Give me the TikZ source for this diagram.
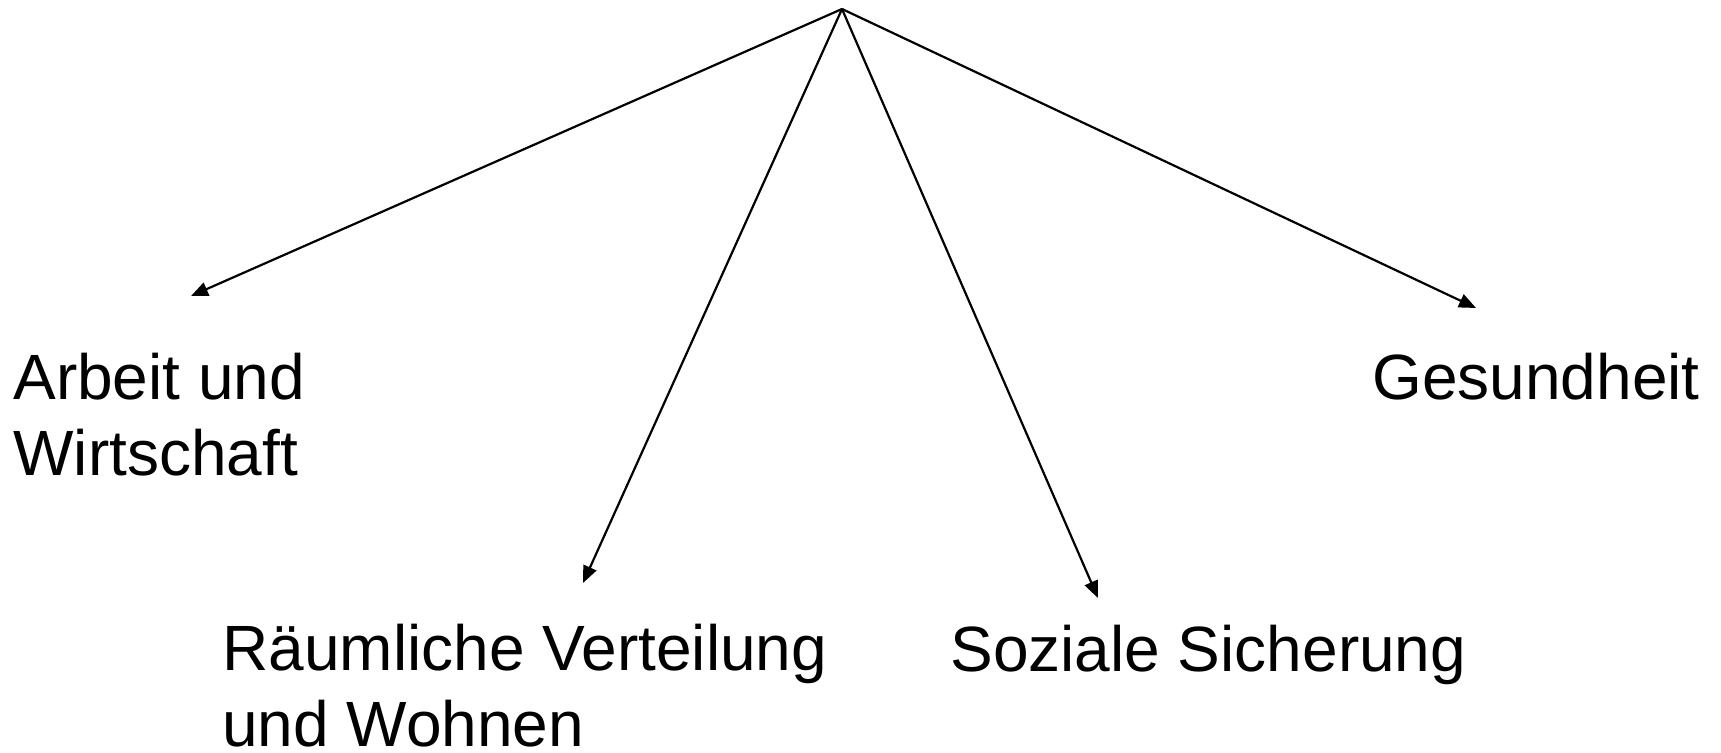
\documentclass[tikz,border=0pt]{standalone}
\usepackage{fontspec}
\setmainfont{Liberation Sans}
\usetikzlibrary{arrows.meta}
\newcommand{\zweig}[2]{\draw[line width=1.1pt,-{Triangle[length=8.5pt,width=7pt]}] (#1) -- (#2);}

\begin{document}
\begin{tikzpicture}[x=0.5pt,y=-0.5pt,
  thema/.style={anchor=base west,inner sep=0pt,align=left,font=\fontsize{32}{38}\selectfont}]
\useasboundingbox (0,0) rectangle (1721,753);
% ---- WURZEL ----
\coordinate (wurzel) at (842,9);
% ---- THEMEN (base = letzte Zeile) ----
\node[thema] (arbeit) at (13,476) {Arbeit und\\Wirtschaft};
\node[thema] (raum) at (222,747) {Räumliche Verteilung\\und Wohnen};
\node[thema] (sozial) at (950,672) {Soziale Sicherung};
\node[thema] (gesund) at (1372,400) {Gesundheit};
% ---- ZWEIGE ----
\coordinate (sa) at (191,296);
\coordinate (sr) at (583,583);
\coordinate (ss) at (1098,598);
\coordinate (sg) at (1476,308);
\zweig{wurzel}{sa}
\zweig{wurzel}{sr}
\zweig{wurzel}{ss}
\zweig{wurzel}{sg}
\end{tikzpicture}
\end{document}
